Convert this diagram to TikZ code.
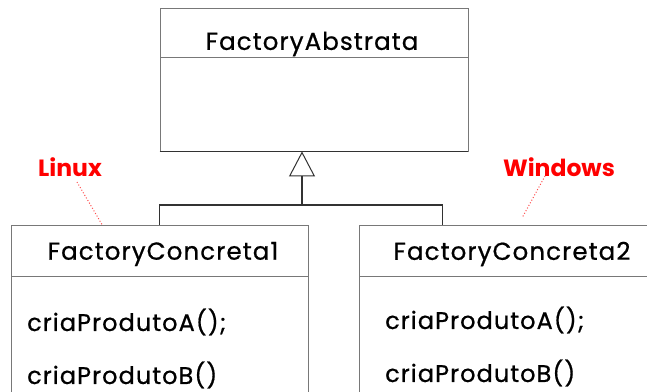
\documentclass[tikz,border=0pt]{standalone}
\usepackage{fontspec}
\setmainfont{Poppins}
\newfontfamily\comicfont{Poppins}[FakeBold=0.7, LetterSpace=4.5]
\usetikzlibrary{arrows.meta}
\definecolor{boxline}{RGB}{120,120,120}
\definecolor{conn}{RGB}{50,50,50}
\definecolor{notered}{RGB}{255,0,0}
\tikzset{
  umlbox/.style={draw=boxline, line width=0.9pt, rectangle, inner sep=0pt},
  title/.style={font=\comicfont\fontsize{24.5}{28}\selectfont, anchor=center, inner sep=0pt},
  oper/.style={font=\comicfont\fontsize{24}{28}\selectfont, anchor=west, inner sep=0pt},
  note/.style={font=\bfseries\fontsize{23.5}{26}\selectfont, text=notered, inner sep=0pt},
  noteline/.style={draw=notered!70, dotted, line width=1pt},
  connline/.style={draw=conn, line width=1.4pt},
}
\begin{document}
\begin{tikzpicture}[x=1pt,y=-1pt]
\useasboundingbox[fill=white] (0,0) rectangle (647,391);
\begin{scope}
\clip (0,0) rectangle (647,391);
% top abstract class
\node[umlbox, minimum width=308pt, minimum height=143pt] (abs) at (314,79.5) {};
\draw[boxline, line width=0.9pt] (160,57) -- (468,57);
\draw[conn, line width=1.3pt] (abs.south west) -- (abs.south east);
\node[title] (absname) at (312,44) {FactoryAbstrata};
% concrete 1
\node[umlbox, minimum width=297pt, minimum height=185pt] (c1) at (159.5,317.5) {};
\draw[boxline, line width=0.9pt] (11,276) -- (308,276);
\node[title] (c1name) at (163,254) {FactoryConcreta1};
\node[oper] (c1a) at (27,322) {criaProdutoA();};
\node[oper] (c1b) at (27,375) {criaProdutoB()};
% concrete 2
\node[umlbox, minimum width=301pt, minimum height=185pt] (c2) at (509.5,317.5) {};
\draw[boxline, line width=0.9pt] (359,276) -- (660,276);
\node[title] (c2name) at (512,254) {FactoryConcreta2};
\node[oper] (c2a) at (385,320) {criaProdutoA();};
\node[oper] (c2b) at (385,373) {criaProdutoB()};
\end{scope}
% inheritance
\coordinate (junc) at (302,205);
\draw[connline] (c1.north) |- (junc) -| ([xshift=84pt]c2.north west);
\draw[connline, -{Triangle[open, length=25pt, width=26pt, line width=1pt, fill=white]}] (junc) -- (junc |- abs.south);
% notes
\node[note] (linux) at (70,167) {Linux};
\node[note] (windows) at (559,167) {Windows};
\coordinate (wend) at (522,218);
\draw[noteline] (77,182) -- ([xshift=-57.5pt]c1.north);
\draw[noteline] (545,176) -- (wend);
\end{tikzpicture}
\end{document}
